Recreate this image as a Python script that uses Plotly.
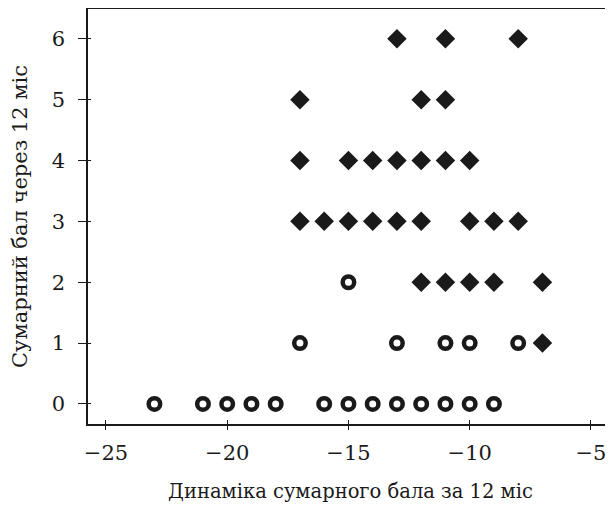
import plotly.graph_objects as go

# Filled diamonds
diamond_x = [-13, -11, -8,
             -17, -12, -11,
             -17, -15, -14, -13, -12, -11, -10,
             -17, -16, -15, -14, -13, -12, -10, -9, -8,
             -12, -11, -10, -9, -7,
             -7]
diamond_y = [6, 6, 6,
             5, 5, 5,
             4, 4, 4, 4, 4, 4, 4,
             3, 3, 3, 3, 3, 3, 3, 3, 3,
             2, 2, 2, 2, 2,
             1]

# Open circles
circle_x = [-15,
            -17, -13, -11, -10, -8,
            -23, -21, -20, -19, -18, -16, -15, -14, -13, -12, -11, -10, -9]
circle_y = [2,
            1, 1, 1, 1, 1,
            0, 0, 0, 0, 0, 0, 0, 0, 0, 0, 0, 0, 0]

x_ticks = [-25, -20, -15, -10, -5]
x_ticklabels = ["\u221225", "\u221220", "\u221215", "\u221210", "\u22125"]
y_ticks = [0, 1, 2, 3, 4, 5, 6]

x_title = "Динаміка сумарного бала за 12 міс"
y_title = "Сумарний бал через 12 міс"

xr = [-25.74, -4.09]
yr = [-0.33, 6.49]
ink = "#1a1a1a"
fam = "DejaVu Serif, Liberation Serif, serif"
font = dict(family=fam, size=21, color=ink)

fig = go.Figure()
fig.add_trace(go.Scatter(
    x=circle_x, y=circle_y, mode="markers",
    marker=dict(symbol="circle-open", size=11.5, color=ink, line=dict(width=4.5, color=ink)),
    showlegend=False, hoverinfo="skip"))
fig.add_trace(go.Scatter(
    x=diamond_x, y=diamond_y, mode="markers",
    marker=dict(symbol="diamond", size=15, color=ink, line=dict(width=0)),
    showlegend=False, hoverinfo="skip"))

# page body has an 8px default margin: compensate in figure size/margins
fig.update_layout(
    width=605, height=502,
    margin=dict(l=80, r=0, t=1, b=86),
    paper_bgcolor="white", plot_bgcolor="white",
    font=font,
    xaxis=dict(range=xr, tickvals=x_ticks, ticktext=x_ticklabels,
               showgrid=False, zeroline=False, automargin=False,
               showline=True, linecolor=ink, linewidth=1.5, mirror=True,
               ticks="outside", ticklen=4, tickwidth=1.3, tickcolor=ink,
               ticklabelstandoff=5,
               title=dict(text=x_title, standoff=20, font=dict(family=fam, size=19.5)),
               tickfont=dict(family=fam, size=21)),
    yaxis=dict(range=yr, tickvals=y_ticks,
               showgrid=False, zeroline=False, automargin=False,
               showline=True, linecolor=ink, linewidth=1.5,
               ticks="outside", ticklen=8, tickwidth=1.3, tickcolor=ink,
               ticklabelstandoff=9,
               title=dict(text=y_title, standoff=35, font=dict(family=fam, size=21)),
               tickfont=dict(family=fam, size=21)),
    xaxis2=dict(range=xr, tickvals=x_ticks, overlaying="x",
                showgrid=False, zeroline=False, showticklabels=False, automargin=False,
                ticks="inside", ticklen=4, tickwidth=1.3, tickcolor=ink,
                side="bottom", anchor="y"),
    yaxis2=dict(range=yr, tickvals=y_ticks, overlaying="y",
                showgrid=False, zeroline=False, showticklabels=False, automargin=False,
                ticks="inside", ticklen=3, tickwidth=1.3, tickcolor=ink,
                side="left", anchor="x"),
)
# invisible trace to activate the secondary (inside-tick) axes
fig.add_trace(go.Scatter(x=[xr[0]], y=[yr[0]], xaxis="x2", yaxis="y2",
                         mode="markers", marker=dict(opacity=0),
                         showlegend=False, hoverinfo="skip"))

fig.write_html("out.html")
